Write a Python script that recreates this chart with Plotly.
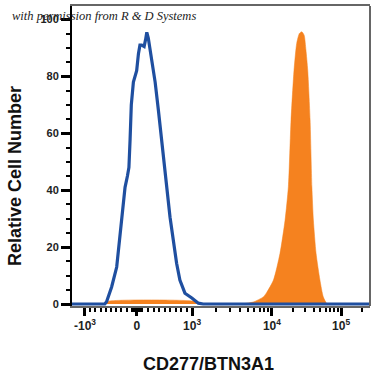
import numpy as np
import plotly.graph_objects as go

# x values are display channels of the biexponential axis (0-1000)
blue_x = [0, 110, 116, 133, 150, 167, 178, 186, 191, 195, 199, 206, 217, 223, 228, 234, 242, 247, 251, 256,
          267, 279, 290, 301, 312, 329, 340, 351, 362, 379, 402, 424, 440, 1000]
blue_y = [0, 0, 0.8, 6, 13, 29, 41, 45, 48, 58, 70, 78, 82, 88, 91, 91, 90.5, 93, 95.5, 93.5,
          86.5, 78, 68, 57, 46, 30.5, 22.4, 14.3, 8.4, 3.8, 2.1, 0.3, 0, 0]

orange_x = [110, 117, 420, 432, 564, 608, 642, 653, 676, 698, 715, 726, 735, 745, 754, 763, 771, 779, 785,
            791, 799, 805, 810, 819, 832, 843, 855, 866]
orange_y = [0, 0.9, 0.9, 0, 0, 0.7, 2.5, 4.0, 8.4, 17.8, 29.5, 41.2, 64.7, 82.2, 91.6, 95.1, 95.7, 94.5, 89.3,
            82.2, 64.7, 41.2, 29.5, 17.8, 8.4, 2.6, 0.2, 0]

# axis ticks
x_tick_values = [-1000, 0, 1000, 10000, 100000]
x_tick_channels = [43.6, 218, 403, 671, 903]
x_tick_text = ["-10<sup>3</sup>", "0", "10<sup>3</sup>", "10<sup>4</sup>", "10<sup>5</sup>"]
y_tick_values = [0, 20, 40, 60, 80, 100]


def to_channel(v):
    if v <= 1000:
        return float(np.interp(v, x_tick_values[:3], x_tick_channels[:3]))
    lv = np.log10(v)
    if lv <= 5:
        return float(np.interp(lv, [3, 4, 5], x_tick_channels[2:]))
    return x_tick_channels[4] + (lv - 5) * (x_tick_channels[4] - x_tick_channels[3])


minor_vals = []
for k in range(1, 10):
    minor_vals += [-100 * k, -10 * k, 10 * k, 100 * k]
for k in range(2, 10):
    minor_vals += [1000 * k, 10000 * k]
minor_vals += [200000]
minor_ch = [to_channel(v) for v in minor_vals]

BLUE = "#1f4fa0"
ORANGE = "#f5821f"

fig = go.Figure()
fig.add_trace(go.Scatter(x=orange_x, y=orange_y, mode="lines", line=dict(color=ORANGE, width=0.5, shape="spline", smoothing=0.6),
                         fill="tozeroy", fillcolor=ORANGE, hoverinfo="skip"))
fig.add_trace(go.Scatter(x=blue_x, y=blue_y, mode="lines", line=dict(color=BLUE, width=3.2), hoverinfo="skip"))

tickfont = dict(family="Liberation Sans", size=11, color="#222", weight="bold")
titlefont = dict(family="Liberation Sans", size=18, color="#111", weight="bold")

L, R, T, B = 72, 5, 6, 69
H = 375 - T - B
W = 375 - L - R

fig.update_layout(
    width=375, height=375,
    margin=dict(l=L, r=R, t=T, b=B, autoexpand=False),
    paper_bgcolor="white", plot_bgcolor="white",
    showlegend=False,
    xaxis=dict(
        range=[0, 1000], showgrid=False, zeroline=False, automargin=False,
        showline=True, linecolor="#666", linewidth=2, mirror=True,
        tickmode="array", tickvals=x_tick_channels, ticktext=x_tick_text,
        ticks="outside", ticklen=8, tickwidth=3, tickcolor="black",
        tickfont=dict(family="Liberation Sans", size=12, color="#222", weight="bold"),
        minor=dict(tickmode="array", tickvals=minor_ch, ticks="outside", ticklen=4, tickwidth=2, tickcolor="black"),
    ),
    yaxis=dict(
        range=[-0.7, 104.75], showgrid=False, zeroline=False, automargin=False,
        showline=True, linecolor="black", linewidth=2,
        tickmode="array", tickvals=y_tick_values,
        ticks="outside", ticklen=9, tickwidth=3, tickcolor="black",
        tickfont=tickfont,
        minor=dict(dtick=5, ticks="outside", ticklen=4, tickwidth=2, tickcolor="black"),
    ),
    shapes=[dict(type="line", xref="paper", yref="paper", x0=1, x1=1, y0=0, y1=1, line=dict(color="#666", width=2))],
    annotations=[
        dict(text="with permission from R &amp; D Systems", xref="paper", yref="paper",
             x=(10 - L) / W, y=(375 - B - 16) / H, xanchor="left", yanchor="middle", showarrow=False,
             font=dict(family="Liberation Serif", size=12.5, color="#222", style="italic")),
        dict(text="CD277/BTN3A1", xref="paper", yref="paper",
             x=(208 - L) / W, y=(375 - B - 364) / H, xanchor="center", yanchor="middle", showarrow=False,
             font=titlefont),
        dict(text="Relative Cell Number", xref="paper", yref="paper", textangle=-90,
             x=(15 - L) / W, y=(375 - B - 176) / H, xanchor="center", yanchor="middle", showarrow=False,
             font=titlefont),
    ],
)

fig.write_html("out.html", config={"displayModeBar": False},
               post_script="document.body.style.margin='0px';")
